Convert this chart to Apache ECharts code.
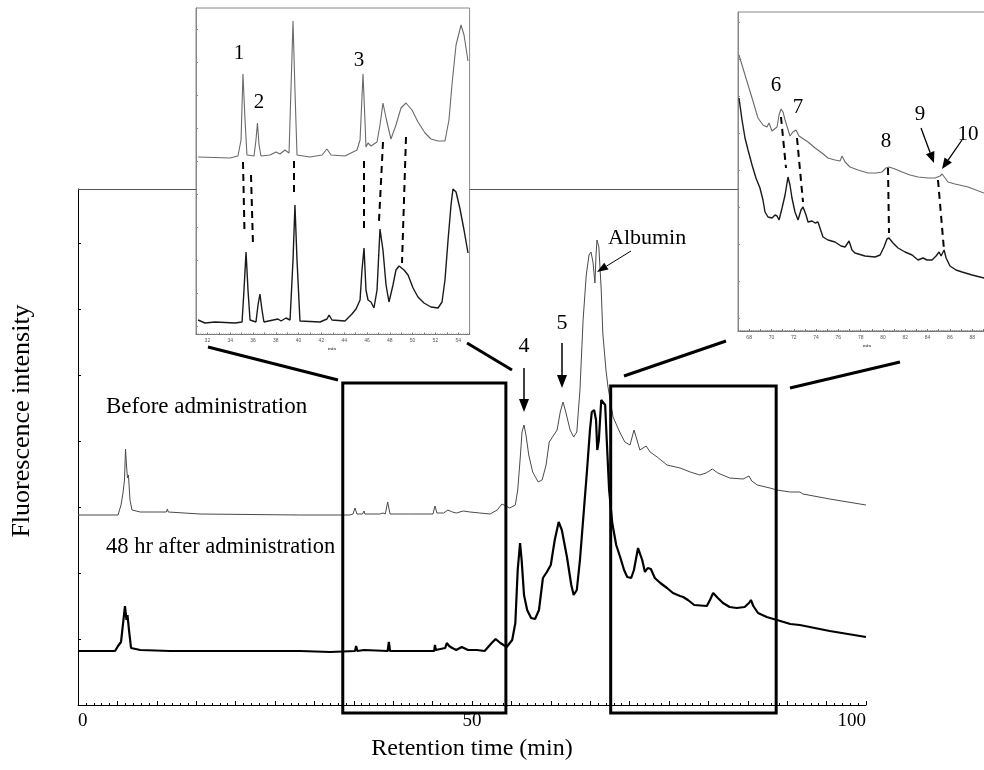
<!DOCTYPE html>
<html><head><meta charset="utf-8">
<script src="https://cdn.jsdelivr.net/npm/echarts@6/dist/echarts.min.js"></script>
<style>html,body{margin:0;padding:0;background:#fff}#c{width:984px;height:770px}</style>
</head><body><div id="c"></div>
<script>
// ---- data (retention time in min, fluorescence intensity in arbitrary units) ----
const mainBefore = [[0,190],[5.08,190],[5.46,200],[5.71,212],[5.9,225],[6.03,256],[6.15,240],[6.28,227],[6.4,230],[6.6,205],[6.85,195],[7.9,193],[10.0,193],[10.2,195],[10.4,193],[11.2,193],[11.35,196],[11.45,193],[15.5,191],[28.2,190],[34.5,190],[34.9,191],[35.15,197],[35.4,191],[36.1,191],[36.3,194],[36.4,191],[38.3,191],[38.7,192],[39.0,191],[39.3,203],[39.6,191],[42.1,191],[45.05,191],[45.3,199],[45.55,192],[46.4,192],[46.95,195],[47.5,193],[48,192],[48.9,194],[49.75,193],[51,192],[52.3,191],[53.2,195],[53.8,201],[54.3,199],[54.8,197],[55.5,200],[55.8,215],[56.1,245],[56.35,273],[56.6,280],[56.85,270],[57.2,250],[57.7,233],[58.4,223],[58.9,225],[59.4,240],[59.8,263],[60.3,269],[60.8,275],[61.2,293],[61.55,303],[61.9,293],[62.45,275],[62.9,268],[63.3,273],[63.7,315],[64.1,385],[64.5,430],[64.85,450],[65.1,453],[65.35,443],[65.6,422],[65.74,450],[65.86,465],[66.1,458],[66.4,415],[66.6,372],[67.0,335],[67.26,318],[67.9,288],[68.8,272],[69.4,263],[70.05,260],[70.56,275],[70.94,265],[71.3,255],[71.7,257],[72.1,259],[72.6,253],[73.5,248],[74.75,240],[76.4,237],[77.7,233],[78.9,230],[79.7,232],[80.5,236],[81.2,232],[82.7,227],[84.4,226],[85.15,229],[85.5,224],[86.2,220],[87.8,217],[88.7,215],[90.4,213],[91.6,213],[92,211],[95.4,206],[100,200]];
const mainAfter = [[0,54],[4.7,54],[5.08,59],[5.46,63],[5.71,65],[5.96,99],[6.15,85],[6.28,90],[6.47,75],[6.73,57],[7.9,55],[11.7,54],[11.8,56],[11.95,54],[28.2,54],[32,53],[35.15,54],[35.3,59],[35.45,54],[36.3,55],[36.4,57],[36.55,54],[39.3,54],[39.45,63],[39.6,54],[45.2,54],[45.3,60],[45.4,55],[46.6,57],[46.8,62],[47.1,59],[47.5,57],[48,55],[48.7,58],[49.5,55],[50.6,55],[51.6,54],[52.5,62],[53,66],[53.6,62],[54.4,58],[55.1,65],[55.5,82],[55.8,135],[56.1,162],[56.3,145],[56.6,110],[57,95],[57.5,87],[58,86],[58.5,95],[59,127],[59.5,133],[60,140],[60.5,165],[61,183],[61.4,175],[62.05,148],[62.6,120],[62.9,110],[63.3,115],[63.7,145],[64.2,195],[64.6,235],[64.97,275],[65.2,293],[65.5,295],[65.74,285],[65.9,255],[66.1,265],[66.4,305],[66.6,307],[66.9,300],[67.1,265],[67.4,215],[67.8,182],[68.3,160],[68.8,148],[69.3,135],[69.7,128],[70.2,127],[70.55,135],[71.07,157],[71.3,158],[71.6,145],[71.95,133],[72.3,137],[72.7,136],[73.2,127],[73.9,122],[74.75,117],[75.5,112],[76.4,109],[76.8,108],[77,110],[77.4,105],[78.2,100],[79.8,99],[80.2,105],[80.6,112],[81.2,107],[81.85,102],[82.7,98],[83.6,97],[84.6,98],[85.15,102],[85.4,105],[85.7,99],[86.3,92],[87.4,88],[88.7,85],[90.4,81],[91.6,80],[95.4,74],[100,68]];
const leftInsetBefore = [[31.18,177.5],[33.98,176.5],[34.68,178.5],[34.95,194.5],[35.12,260.5],[35.3,214.5],[35.47,179.5],[36.09,178.5],[36.26,194.5],[36.39,211.5],[36.53,189.5],[36.7,178.5],[37.49,179.5],[38.02,182.5],[38.37,180.5],[38.8,184.5],[39.16,181.5],[39.33,244.5],[39.51,313.5],[39.68,244.5],[39.86,179.5],[41,177.5],[42.05,179.5],[42.49,185.5],[42.84,179.5],[44.07,178.5],[45.12,184.5],[45.39,194.5],[45.65,260.5],[45.82,214.5],[45.91,187.5],[46.09,191.5],[46.35,188.5],[46.88,192.5],[47.14,209.5],[47.4,231.5],[47.67,216.5],[48.1,195.5],[48.54,209.5],[48.98,226.5],[49.42,231.5],[49.95,224.5],[50.47,212.5],[51.09,201.5],[51.61,195.5],[52.23,193.5],[52.84,193.5],[53.19,214.5],[53.46,250.5],[53.81,289.5],[54.25,309.5],[54.51,299.5],[54.86,273.5]];
const leftInsetAfter = [[31.18,14.5],[31.79,11.5],[32.67,12.5],[34.42,11.5],[35.04,12.5],[35.21,44.5],[35.39,82.5],[35.56,44.5],[35.74,14.5],[36.26,12.5],[36.44,29.5],[36.61,40.5],[36.79,24.5],[36.96,12.5],[38.19,15.5],[38.46,13.5],[38.89,16.5],[39.25,14.5],[39.51,74.5],[39.68,129.5],[39.86,74.5],[40.12,13.5],[41.88,12.5],[42.49,15.5],[42.67,19.5],[42.93,14.5],[44.07,13.5],[44.68,20.5],[45.04,25.5],[45.39,34.5],[45.56,64.5],[45.74,86.5],[45.91,44.5],[46.09,34.5],[46.35,32.5],[46.61,26.5],[46.88,44.5],[47.14,105.5],[47.4,84.5],[47.67,49.5],[47.93,32.5],[48.28,49.5],[48.54,64.5],[48.81,68.5],[49.25,64.5],[49.6,59.5],[50.04,46.5],[50.47,37.5],[51,31.5],[51.61,27.5],[52.23,26.5],[52.58,32.5],[52.84,54.5],[53.11,94.5],[53.37,129.5],[53.54,145.5],[53.81,142.5],[54.16,125.5],[54.51,104.5],[54.86,81.5]];
const rightInsetBefore = [[67.09,276],[67.63,256],[68.26,233],[68.79,213],[69.24,206],[69.6,204],[69.78,208],[70.05,200],[70.5,204],[70.68,216],[70.86,222],[71.04,219],[71.22,211],[71.66,195],[71.93,199],[72.2,201],[72.47,195],[72.74,193],[73.28,189],[73.91,183],[74.53,178],[75.07,173],[75.7,171],[76.15,170],[76.33,175],[76.6,169],[77.04,164],[77.76,161],[78.66,158],[79.38,158],[79.91,159],[80.27,163],[80.54,164],[81.08,162],[81.71,159],[82.43,156],[83.14,154],[84.04,153],[84.67,153],[85.12,155],[85.3,157],[85.57,153],[85.83,149],[86.46,147],[87.63,144],[89.06,138],[89.96,135]];
const rightInsetAfter = [[67.09,233],[67.36,211],[67.63,193],[67.9,181],[68.26,166],[68.61,153],[68.97,143],[69.24,131],[69.42,119],[69.69,114],[70.05,113],[70.32,116],[70.5,115],[70.68,111],[70.95,123],[71.22,136],[71.48,154],[71.66,146],[71.84,133],[72.11,119],[72.38,111],[72.65,121],[72.83,124],[73.1,116],[73.28,109],[73.64,110],[73.91,108],[74.17,109],[74.62,94],[75.07,91],[75.7,89],[76.24,85],[76.6,84],[76.96,90],[77.22,81],[77.49,78],[78.39,75],[79.29,74],[79.74,76],[80.09,84],[80.36,92],[80.54,93],[80.9,88],[81.35,83],[81.98,79],[82.61,76],[83.14,71],[83.59,73],[83.95,71],[84.4,71],[84.76,75],[85.03,79],[85.21,75],[85.48,81],[85.66,73],[86.01,65],[86.55,61],[87.09,59],[87.99,56],[89.06,53],[89.96,51]];
const mainTickLabels = [0, 50, 100];
const leftInsetTickLabels = [32,34,36,38,40,42,44,46,48,50,52,54];
const rightInsetTickLabels = [68,70,72,74,76,78,80,82,84,86,88];
const leftInsetYTicks = [8,41,74,107,140,173,206,239,272,305];
const rightInsetYTicks = [13,50,87,124,161,198,235,272,309];
// zoomed windows on the main chart (min) drawn as boxes
const zoomWindows = [[33.6, 54.3], [67.6, 88.6]];
const traceNames = ['Before administration', '48 hr after administration'];
const yTitle = 'Fluorescence intensity';

const FONT = "'Liberation Serif','Times New Roman',serif";
const chart = echarts.init(document.getElementById('c'), null, {renderer: 'canvas'});

function insetX(idx, min, max, labels) {
  return {
    type: 'value', gridIndex: idx, min: min, max: max, interval: 1,
    axisLine: {lineStyle: {color: '#777', width: 1}},
    axisTick: {inside: true, length: 2, lineStyle: {color: '#777'}},
    minorTick: {show: true, splitNumber: 5, length: 1, lineStyle: {color: '#999'}},
    axisLabel: {fontSize: 5, color: '#555', margin: 4, fontFamily: 'Liberation Sans',
      formatter: v => labels.includes(v) ? String(v) : ''},
    splitLine: {show: false}
  };
}
function insetY(idx, max, ticks) {
  return {
    type: 'value', gridIndex: idx, min: 0, max: max,
    axisLine: {lineStyle: {color: '#888', width: 1}},
    axisTick: {inside: true, length: 2, customValues: ticks, lineStyle: {color: '#888'}},
    axisLabel: {show: false}, splitLine: {show: false}
  };
}
const lineSeries = (name, data, xi, color, w) => ({
  name: name, type: 'line', data: data, xAxisIndex: xi, yAxisIndex: xi,
  showSymbol: false, symbol: 'none', smooth: false,
  lineStyle: {color: color, width: w}, z: 3, silent: true
});

chart.setOption({
  animation: false,
  backgroundColor: '#fff',
  textStyle: {fontFamily: FONT},
  grid: [
    {left: 78, top: 189, width: 788, height: 516, outerBoundsMode: 'none', containLabel: false},
    {left: 196, top: 8, width: 273.6, height: 326.5, show: true, backgroundColor: '#fff', borderColor: '#888', borderWidth: 1, outerBoundsMode: 'none', containLabel: false},
    {left: 738, top: 12, width: 256.5, height: 319, show: true, backgroundColor: '#fff', borderColor: '#888', borderWidth: 1, outerBoundsMode: 'none', containLabel: false}
  ],
  xAxis: [
    {type: 'value', gridIndex: 0, min: 0, max: 100, interval: 5,
      axisLine: {lineStyle: {color: '#000', width: 1}},
      axisTick: {inside: true, length: 4, lineStyle: {color: '#000'}},
      minorTick: {show: true, splitNumber: 5, length: 2, lineStyle: {color: '#000'}},
      axisLabel: {fontSize: 19, color: '#000', margin: 7, fontFamily: FONT,
        alignMinLabel: 'left', alignMaxLabel: 'right',
        formatter: v => mainTickLabels.includes(v) ? String(v) : ''},
      splitLine: {show: false},
      name: 'Retention time (min)', nameLocation: 'middle', nameGap: 32,
      nameTextStyle: {fontSize: 24, color: '#000', fontFamily: FONT}},
    insetX(1, 31, 55, leftInsetTickLabels),
    insetX(2, 67, 90, rightInsetTickLabels)
  ],
  yAxis: [
    {type: 'value', gridIndex: 0, min: 0, max: 516, interval: 66,
      axisLine: {lineStyle: {color: '#000', width: 1}},
      axisTick: {inside: true, length: 3, lineStyle: {color: '#000'}},
      axisLabel: {show: false}, splitLine: {show: false}},
    insetY(1, 326.5, leftInsetYTicks),
    insetY(2, 319, rightInsetYTicks)
  ],
  series: [
    lineSeries(traceNames[0], mainBefore, 0, '#4a4a4a', 1),
    lineSeries(traceNames[1], mainAfter, 0, '#000', 2.2),
    lineSeries(traceNames[0], leftInsetBefore, 1, '#6a6a6a', 1.1),
    lineSeries(traceNames[1], leftInsetAfter, 1, '#1a1a1a', 1.4),
    lineSeries(traceNames[0], rightInsetBefore, 2, '#6a6a6a', 1.1),
    lineSeries(traceNames[1], rightInsetAfter, 2, '#1a1a1a', 1.4)
  ]
});

// ---- annotations ----
const g = [];
const P = (gi, x, y) => chart.convertToPixel({gridIndex: gi}, [x, y]);
const txt = (t, x, y, size, align) => ({type: 'text', z: 100, style: {text: t, x: x, y: y, fill: '#000',
  font: size + 'px ' + FONT, textAlign: align || 'center', textVerticalAlign: 'middle'}});
const seg = (x1, y1, x2, y2, w, dash, col) => ({type: 'line', z: 100, shape: {x1, y1, x2, y2},
  style: {stroke: col || '#000', lineWidth: w, lineDash: dash || null}});
function arrow(x1, y1, x2, y2, w, hl, hw) {
  const a = Math.atan2(y2 - y1, x2 - x1), c = Math.cos(a), s = Math.sin(a);
  const bx = x2 - hl * c, by = y2 - hl * s;
  g.push(seg(x1, y1, bx, by, w));
  g.push({type: 'polygon', z: 100, shape: {points: [[x2, y2], [bx - hw * s, by + hw * c], [bx + hw * s, by - hw * c]]}, style: {fill: '#000'}});
}
// y-axis title
g.push({type: 'text', z: 100, x: 22, y: 421, rotation: Math.PI / 2,
  style: {text: yTitle, fill: '#000', font: '26px ' + FONT, textAlign: 'center', textVerticalAlign: 'middle'}});
// main frame top edge (visible between the insets)
const top0 = P(0, 0, 516);
g.push(seg(top0[0], top0[1] + 0.5, 196, top0[1] + 0.5, 1, null, '#555'));
g.push(seg(469.6, top0[1] + 0.5, 738, top0[1] + 0.5, 1, null, '#555'));
// zoom boxes
zoomWindows.forEach((w, i) => {
  const a = P(0, w[0], i === 0 ? 322 : 319), b = P(0, w[1], -8);
  g.push({type: 'rect', z: 100, shape: {x: a[0], y: a[1], width: b[0] - a[0], height: b[1] - a[1]},
    style: {fill: 'none', stroke: '#000', lineWidth: 3}});
});
// connector lines
g.push(seg(208, 347, 338, 380, 3));
g.push(seg(467, 343, 512, 370, 3));
g.push(seg(624, 376, 726, 341, 3));
g.push(seg(790, 388, 900, 362, 3));
// trace labels
g.push(txt(traceNames[0], 106, 407, 23, 'left'));
g.push(txt(traceNames[1], 106, 547, 22.5, 'left'));
// peak arrows on main chart
g.push(txt('4', 524, 346, 22));
arrow(524, 368, 524, 412, 1.5, 13, 5);
g.push(txt('5', 562, 323, 22));
arrow(562, 343, 562, 388, 1.5, 13, 5);
g.push(txt('Albumin', 608, 238, 22, 'left'));
arrow(631, 251, 597, 272, 1, 11, 4);
// left inset labels and dashed links
g.push(txt('1', 239, 53, 21));
g.push(txt('2', 259, 102, 21));
g.push(txt('3', 359, 60, 21));
[[243,162,244.5,232],[251,175,253,245],[294,161,294,194],[364,161,364,232],[383,142,379,221],[406,137,402,263]]
  .forEach(d => g.push(seg(d[0], d[1], d[2], d[3], 2, [7, 5])));
g.push(txt('min', 332, 349, 5));
// right inset labels and dashed links
g.push(txt('6', 776, 85, 21));
g.push(txt('7', 798, 107, 21));
g.push(txt('8', 886, 141, 21));
g.push(txt('9', 920, 114, 21));
g.push(txt('10', 968, 134, 21));
arrow(921, 128, 934, 163, 1.3, 11, 4.5);
arrow(962, 140, 942, 169, 1.3, 11, 4.5);
[[781,117,786,168],[797,138,803,202],[888,168,889,233],[938,180,944,250]]
  .forEach(d => g.push(seg(d[0], d[1], d[2], d[3], 2, [7, 5])));
g.push(txt('min', 867, 346, 5));
chart.setOption({graphic: {elements: g}});
</script></body></html>
